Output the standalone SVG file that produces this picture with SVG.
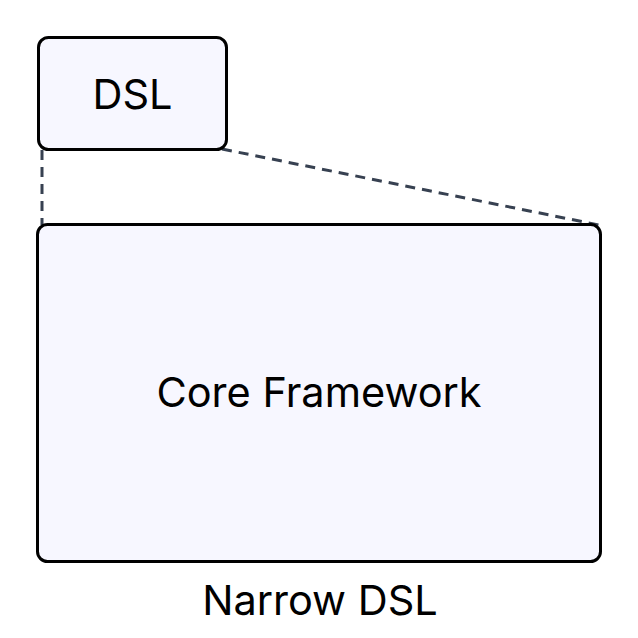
<svg xmlns="http://www.w3.org/2000/svg" width="638" height="638" viewBox="0 0 638 638">
<style>
.node{fill:#f7f7ff;stroke:#000;stroke-width:3}
.lbl{font-family:Inter,"Noto Sans",sans-serif;font-size:41.5px;fill:#000;text-anchor:middle}
.dash{stroke:#374151;stroke-width:3;stroke-dasharray:10 7;fill:none}
</style>
<rect width="638" height="638" fill="#fff"/>
<g id="connectors">
<line class="dash" x1="42" y1="150" x2="42" y2="225"/>
<line class="dash" x1="222" y1="149" x2="599" y2="225"/>
</g>
<g id="core">
<rect class="node" x="37.5" y="224.5" width="563" height="337" rx="10"/>
<text class="lbl" x="319" y="407">Core Framework</text>
</g>
<g id="dsl">
<rect class="node" x="38.5" y="37.5" width="188" height="112" rx="10"/>
<text class="lbl" x="132.5" y="109">DSL</text>
</g>
<text class="lbl" x="320" y="615">Narrow DSL</text>
</svg>
